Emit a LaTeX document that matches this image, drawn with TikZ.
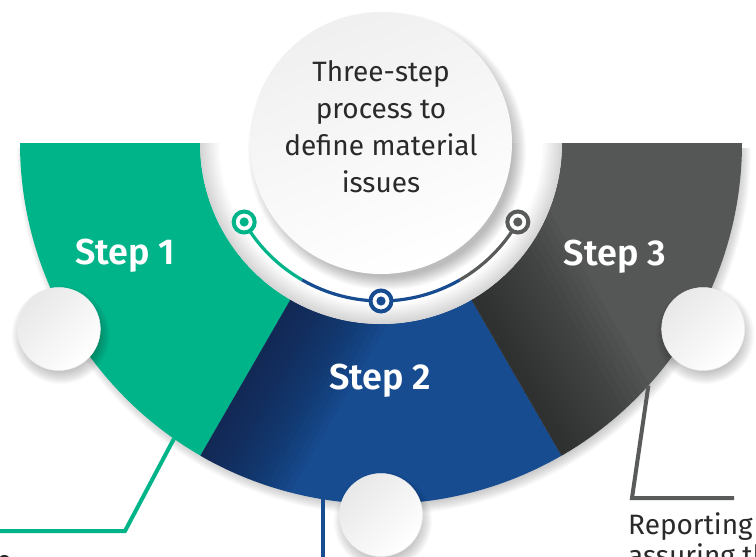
\documentclass[tikz,border=0pt]{standalone}
\usepackage{fontspec}
\setmainfont{Fira Sans}
\newfontfamily\stepfont{Fira Sans SemiBold}
\usetikzlibrary{calc}

\definecolor{stepgreen}{HTML}{00B48A}
\definecolor{stepblue}{HTML}{174C91}
\definecolor{stepgray}{HTML}{555756}
\definecolor{navyshade}{HTML}{121F42}
\definecolor{charshade}{HTML}{1E2020}
\definecolor{leadgray}{HTML}{595A5A}
\definecolor{inktext}{HTML}{2A2A2A}

% one band of the half ring, between two angles (y axis points down)
\newcommand\ringsector[2]{($(C)+(#1:181)$) arc[start angle=#1,end angle=#2,radius=181]
  -- ($(C)+(#2:361)$) arc[start angle=#2,end angle=#1,radius=361] -- cycle}

\begin{document}
\begin{tikzpicture}[x=1pt,y=-1pt,
  steplabel/.style={text=white, font=\stepfont\fontsize{36}{40}\selectfont, anchor=base, inner sep=0pt},
  bodytext/.style={text=inktext, font=\fontsize{28}{37}\selectfont, inner sep=0pt},
  knob/.style={circle, minimum size=83pt, inner sep=0pt, top color=black!9, bottom color=white,
    shading angle=45, draw=black!7, line width=0.5pt},
  hub/.style={circle, minimum size=262pt, inner sep=0pt, top color=black!6, bottom color=white,
    shading angle=20},
  marker/.style={circle, draw=#1, line width=4pt, fill=white, minimum size=21pt, inner sep=0pt},
  arcline/.style={line width=3.2pt, draw=#1},
  leader/.style={line width=4pt, draw=#1, line join=miter},
  pics/softshadow/.style={code={
    \foreach \k in {0,...,13}{\fill[black,opacity=0.019] (0,0) circle[radius={#1-5+\k}];}}}
]
\useasboundingbox (0,0) rectangle (756,557);
\clip (0,0) rectangle (756,557);
\coordinate (C) at (381,143);

% soft shadow under the outer rim of the half ring
\foreach \k in {0,...,11}{
  \fill[black,opacity=0.02] ($(C)+(3,5)+(0:{356+\k})$)
    arc[start angle=0,end angle=180,radius={356+\k}] -- cycle;}

% the three bands
\fill[stepgreen] \ringsector{180}{120};
\fill[stepblue] \ringsector{120}{60};
\fill[stepgray] \ringsector{60}{0};

% darker edge where each band tucks under the previous one
\begin{scope}
  \clip \ringsector{120}{60};
  \foreach \d in {6,12,...,96}{
    \fill[navyshade,opacity=0.07] (C) -- ($(C)+(120:420)$) -- ($(C)+(120:420)+(30:\d)$)
      -- ($(C)+(30:\d)$) -- cycle;}
\end{scope}
\begin{scope}
  \clip \ringsector{60}{0};
  \foreach \d in {7,14,...,112}{
    \fill[charshade,opacity=0.055] (C) -- ($(C)+(60:420)$) -- ($(C)+(60:420)+(-30:\d)$)
      -- ($(C)+(-30:\d)$) -- cycle;}
\end{scope}

% inner white half disc with a shaded rim
\fill[white] ($(C)+(0:181)$) arc[start angle=0,end angle=180,radius=181] -- cycle;
\foreach \k in {1,...,14}{
  \fill[black,opacity=0.011,even odd rule]
    ($(C)+(0:181)$) arc[start angle=0,end angle=180,radius=181] -- cycle
    ($(C)+(0:{181-1.4*\k})$) arc[start angle=0,end angle=180,radius={181-1.4*\k}] -- cycle;}

% central disc
\pic at ($(C)+(6,8)$) {softshadow=131};
\node[hub] (hub) at (C) {};
\node[bodytext, align=center] (title) at (381,126.5)
  {Three-step\\process to\\define material\\issues};

% timeline arc with its three markers
\coordinate (j1) at ($(C)+(120:158)$);
\coordinate (j2) at ($(C)+(60:158)$);
\draw[arcline=stepgreen] ($(C)+(150:158)$) arc[start angle=150,end angle=120,radius=158];
\draw[arcline=stepblue] (j1) arc[start angle=120,end angle=60,radius=158];
\draw[arcline=leadgray] (j2) arc[start angle=60,end angle=30,radius=158];
\node[marker=stepgreen] (m1) at ($(C)+(150:158)$) {};
\node[marker=stepblue] (m2) at ($(C)+(90:158)$) {};
\node[marker=leadgray] (m3) at ($(C)+(30:158)$) {};
\fill[stepgreen] (m1.center) circle[radius=4.6];
\fill[stepblue] (m2.center) circle[radius=4.6];
\fill[leadgray] (m3.center) circle[radius=4.6];

% step labels
\node[steplabel] (s1) at (125,264) {Step 1};
\node[steplabel] (s2) at (380,389) {Step 2};
\node[steplabel] (s3) at (615,265) {Step 3};

% knobs on the outer rim
\pic at ($(C)+(150:372)+(2,6)$) {softshadow=41};
\pic at ($(C)+(90:372)+(2,6)$) {softshadow=41};
\pic at ($(C)+(30:372)+(2,6)$) {softshadow=41};
\node[knob] (k1) at ($(C)+(150:372)$) {};
\node[knob] (k2) at ($(C)+(90:372)$) {};
\node[knob] (k3) at ($(C)+(30:372)$) {};

% leader lines
\coordinate (g0) at ($(C)+(125:361)$);
\coordinate (g1) at (125,531);
\coordinate (g2) at (-6,531);
\draw[leader=stepgreen] (g0) -- (g1) -- (g2);

\coordinate (b0) at ($(C)+(99.3:361)$);
\coordinate (b1) at ($(b0)+(0,80)$);
\draw[leader=stepblue] (b0) -- (b1);

\coordinate (r0) at ($(C)+(42.2:361)$);
\coordinate (r1) at (632,498);
\coordinate (r2) at (734,498);
\draw[leader=leadgray] (r0) -- (r1) -- (r2);

% captions running off the edge
\node[bodytext, font=\fontsize{28}{31}\selectfont, align=left, anchor=north west] (rep) at (628,512.5)
  {Reporting and\\assuring the};
\node[bodytext, anchor=base east] (frag) at (12,570.5) {e};
\end{tikzpicture}
\end{document}
